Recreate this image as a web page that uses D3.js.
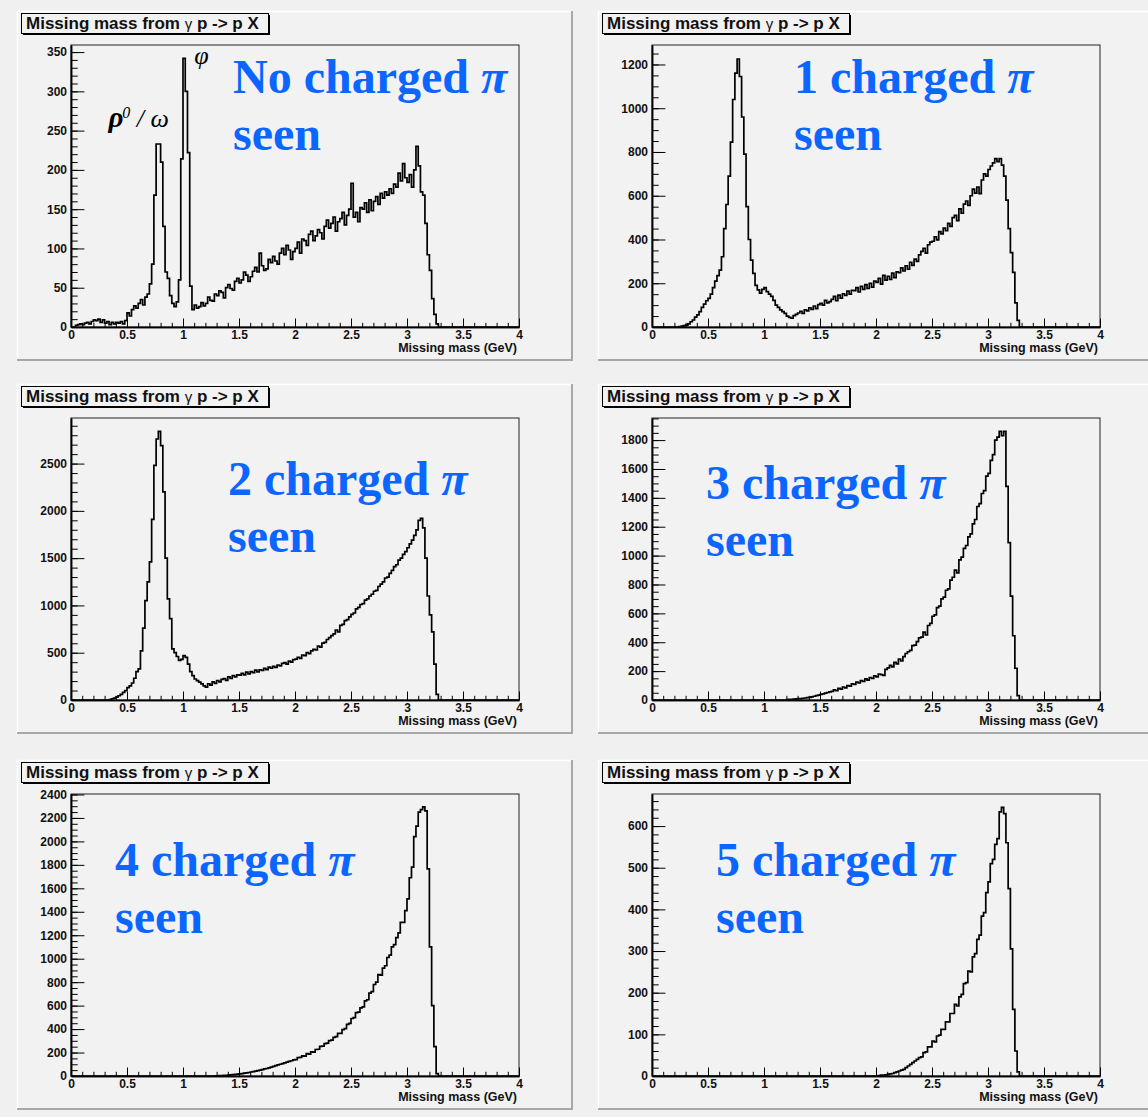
<!DOCTYPE html>
<html><head><meta charset="utf-8">
<script src="https://cdn.jsdelivr.net/npm/d3@7"></script>
<style>
html,body{margin:0;padding:0;background:#f0f0f0;}
svg{display:block;}
</style></head><body>
<svg id="c" width="1148" height="1117"></svg>
<script>
// ---------------- DATA ----------------
const panelLabels = ["No charged π","1 charged π","2 charged π","3 charged π","4 charged π","5 charged π"];
const secondLine = "seen";
const histTitle = "Missing mass from γ p -> p X";
const xAxisTitle = "Missing mass (GeV)";
const xTickValues = [0,0.5,1,1.5,2,2.5,3,3.5,4];
const yAxisMax = [359,1289,2982,1953,2404,677];
const yMajorStep = [50,200,500,200,200,100];
const yMinorStep = [10,50,100,50,50,20];
const binLow = 0, binHigh = 4; // GeV, 200 bins of 0.02 GeV

const countsNone = [
0,0,2,3,4, 3,5,6,4,7, 9,8,10,6,9, 5,7,3,6,4, 6,5,7,4,8,
18,14,22,27,24, 30,35,28,38,42, 55,80,168,233,233, 210,128,70,62,40, 30,26,32,60,214,
342,300,222,52,22, 28,24,26,31,27, 30,38,34,33,42, 40,46,44,37,50, 54,49,47,58,62,
56,60,70,66,58, 64,71,76,70,94, 78,72,74,86,82, 90,84,80,94,100, 92,104,98,86,96,
100,108,94,112,110, 104,118,122,110,116, 124,120,112,128,136, 126,132,140,122,134, 138,146,130,142,150,
183,140,146,134,152, 150,158,146,162,148, 160,166,156,170,164, 172,168,176,170,182, 178,196,186,208,190,
184,194,178,200,230, 205,172,168,132,92, 72,36,16,4,0, 0,0,0,0,0, 0,0,0,0,0,
0,0,0,0,0, 0,0,0,0,0, 0,0,0,0,0, 0,0,0,0,0, 0,0,0,0,0];

const countsOne = [
0,0,0,0,0, 0,0,0,0,0, 0,0,2,4,6, 9,14,24,32,45, 55,70,90,105,120,
131,150,180,210,235, 260,321,450,560,690, 845,1040,1160,1225,1145, 960,790,550,400,306, 245,190,170,155,172,
180,162,150,140,122, 100,90,78,70,62, 50,44,40,52,58, 64,72,62,78,74, 88,80,96,84,102,
108,100,122,110,116, 126,140,120,146,132, 152,144,164,150,168, 166,180,160,186,172, 194,176,200,182,210,
204,222,196,236,214, 232,218,246,226,252, 248,270,256,280,264, 296,282,310,300,330, 346,360,338,376,388,
392,412,398,436,426, 452,440,474,460,500, 510,486,540,520,562, 576,556,600,630,612, 640,610,672,700,690,
720,736,750,770,756, 770,740,690,580,450, 340,250,110,30,0, 0,0,0,0,0, 0,0,0,0,0,
0,0,0,0,0, 0,0,0,0,0, 0,0,0,0,0, 0,0,0,0,0, 0,0,0,0,0];

const countsTwo = [
0,0,0,0,0, 0,0,0,0,0, 0,0,0,0,0, 0,0,5,12,20, 30,45,60,80,100,
130,150,180,230,300, 330,520,760,1050,1250, 1460,1910,2480,2760,2840, 2690,2200,1500,1070,860, 540,500,460,420,430,
470,450,380,300,257, 222,205,190,170,150, 137,172,158,192,176, 206,192,218,226,208, 246,228,258,244,266,
262,282,266,294,276, 300,290,316,298,320, 312,334,322,348,336, 356,344,370,360,388, 396,380,412,400,426,
432,452,440,476,470, 500,490,520,536,530, 570,560,602,610,640, 660,680,700,740,720, 790,800,840,850,880,
906,920,964,980,1010, 1020,1056,1070,1100,1118, 1150,1160,1200,1226,1250, 1290,1300,1340,1370,1410, 1430,1480,1500,1540,1570,
1610,1650,1690,1740,1800, 1900,1920,1820,1500,1100, 900,720,380,60,0, 0,0,0,0,0, 0,0,0,0,0,
0,0,0,0,0, 0,0,0,0,0, 0,0,0,0,0, 0,0,0,0,0, 0,0,0,0,0];

const countsThree = [
0,0,0,0,0, 0,0,0,0,0, 0,0,0,0,0, 0,0,0,0,0, 0,0,0,0,0,
0,0,0,0,0, 0,0,0,0,0, 0,0,0,0,0, 0,0,0,0,0, 0,0,0,0,0,
0,0,0,0,0, 0,0,0,0,0, 3,4,5,6,8, 9,10,12,14,16, 18,22,26,30,34,
38,42,48,52,56, 60,70,64,80,76, 90,84,100,96,112, 108,124,118,134,128, 146,138,156,150,168,
160,180,176,170,212, 222,240,230,260,250, 284,270,300,322,334, 344,376,380,404,430, 436,470,450,516,530,
580,590,640,650,700, 712,760,770,830,850, 900,880,970,990,1050, 1070,1130,1150,1220,1250, 1340,1360,1430,1450,1550,
1570,1660,1700,1800,1820, 1860,1830,1860,1480,1090, 720,445,220,30,0, 0,0,0,0,0, 0,0,0,0,0,
0,0,0,0,0, 0,0,0,0,0, 0,0,0,0,0, 0,0,0,0,0, 0,0,0,0,0];

const countsFour = [
0,0,0,0,0, 0,0,0,0,0, 0,0,0,0,0, 0,0,0,0,0, 0,0,0,0,0,
0,0,0,0,0, 0,0,0,0,0, 0,0,0,0,0, 0,0,0,0,0, 0,0,0,0,0,
0,0,0,0,0, 0,0,0,0,0, 0,0,0,0,1, 2,3,4,5,6, 8,10,12,14,16,
18,21,24,27,30, 34,38,42,46,50, 55,60,64,70,76, 82,88,94,100,106, 112,118,124,130,138,
140,156,158,172,170, 190,186,206,204,226, 228,252,254,276,280, 302,306,330,336,364, 364,396,404,440,448,
490,498,540,544,580, 590,640,650,706,720, 780,800,864,860,920, 940,1010,1030,1100,1120, 1180,1220,1310,1310,1410,
1510,1690,1780,2040,2130, 2250,2270,2295,2260,1765, 1100,600,250,20,0, 0,0,0,0,0, 0,0,0,0,0,
0,0,0,0,0, 0,0,0,0,0, 0,0,0,0,0, 0,0,0,0,0, 0,0,0,0,0];

const countsFive = [
0,0,0,0,0, 0,0,0,0,0, 0,0,0,0,0, 0,0,0,0,0, 0,0,0,0,0,
0,0,0,0,0, 0,0,0,0,0, 0,0,0,0,0, 0,0,0,0,0, 0,0,0,0,0,
0,0,0,0,0, 0,0,0,0,0, 0,0,0,0,0, 0,0,0,0,0, 0,0,0,0,0,
0,0,0,0,0, 0,0,0,0,0, 0,0,0,0,0, 0,0,0,0,0, 0,0,0,0,0,
0,1,2,2,3, 4,5,6,8,10, 12,14,16,20,24, 28,32,36,40,44, 46,56,58,70,70,
84,82,96,98,112, 112,130,130,150,150, 172,168,190,196,222, 224,252,250,286,294, 328,338,384,392,440,
466,510,520,556,570, 634,645,630,560,450, 305,160,60,10,0, 0,0,0,0,0, 0,0,0,0,0,
0,0,0,0,0, 0,0,0,0,0, 0,0,0,0,0, 0,0,0,0,0, 0,0,0,0,0];

const allCounts = [countsNone,countsOne,countsTwo,countsThree,countsFour,countsFive];

// ---------------- LAYOUT ----------------
const W = 1148, H = 1117;
const padCols = [17, 598], padRows = [11, 384, 760];
const padW = 556, padH = 350;
const frameL = 54, frameT = 34, frameW = 448, frameH = 282;
const labelOffsets = [[162,48],[142,48],[157,77],[54,81],[44,82],[64,82]];
const labelLineGap = 57;
const rootFont = "'Liberation Sans', Arial, Helvetica, sans-serif";
const serifFont = "'Liberation Serif', 'Times New Roman', serif";
const blue = "#0a66ff";
const padFill = "#f2f2f2";

const svg = d3.select("#c");
svg.append("rect").attr("width",W).attr("height",H).attr("fill","#f0f0f0");

allCounts.forEach((counts,i)=>{
  const col = i%2, row = Math.floor(i/2);
  const px = padCols[col], py = padRows[row];
  const g = svg.append("g");

  // pad with bevel
  g.append("rect").attr("x",px).attr("y",py).attr("width",padW).attr("height",padH).attr("fill",padFill);
  g.append("path").attr("d",`M${px+0.5},${py+padH}V${py+0.5}H${px+padW}`)
    .attr("stroke","#ffffff").attr("stroke-width",1.5).attr("fill","none");
  g.append("path").attr("d",`M${px+padW-1},${py}V${py+padH-1}H${px}`)
    .attr("stroke","#a8a8a8").attr("stroke-width",2).attr("fill","none");

  const fx = px+frameL, fy = py+frameT;
  const x = d3.scaleLinear().domain([binLow,binHigh]).range([fx, fx+frameW]);
  const y = d3.scaleLinear().domain([0,yAxisMax[i]]).range([fy+frameH, fy]);

  // histogram
  const bw = (binHigh-binLow)/counts.length;
  const pts = counts.map((c,k)=>[binLow+k*bw, c]);
  pts.push([binHigh, counts[counts.length-1]]);
  const line = d3.line().x(d=>x(d[0])).y(d=>y(d[1])).curve(d3.curveStepAfter);
  g.append("path").attr("d",line(pts)).attr("fill","none")
    .attr("stroke","#000").attr("stroke-width",1.7).attr("stroke-linejoin","miter");

  // frame
  g.append("rect").attr("x",fx).attr("y",fy).attr("width",frameW).attr("height",frameH)
    .attr("fill","none").attr("stroke","#222").attr("stroke-width",1);

  // axes
  const xMinor = d3.range(0, 40.5, 1).map(v=>v/10);
  const gxm = g.append("g").attr("transform",`translate(0,${fy+frameH})`)
    .call(d3.axisBottom(x).tickValues(xMinor).tickSizeInner(-4.2).tickSizeOuter(0).tickFormat(""));
  const gx = g.append("g").attr("transform",`translate(0,${fy+frameH})`)
    .call(d3.axisBottom(x).tickValues(xTickValues).tickSizeInner(-8.5).tickSizeOuter(0).tickPadding(3).tickFormat(d3.format("~g")));
  const yMinor = d3.range(0, yAxisMax[i]+1e-9, yMinorStep[i]);
  const yMajor = d3.range(0, yAxisMax[i]+1e-9, yMajorStep[i]);
  const gym = g.append("g").attr("transform",`translate(${fx},0)`)
    .call(d3.axisLeft(y).tickValues(yMinor).tickSizeInner(-6.7).tickSizeOuter(0).tickFormat(""));
  const gy = g.append("g").attr("transform",`translate(${fx},0)`)
    .call(d3.axisLeft(y).tickValues(yMajor).tickSizeInner(-13.4).tickSizeOuter(0).tickPadding(4).tickFormat(d3.format("d")));
  [gxm,gx,gym,gy].forEach(a=>{
    a.selectAll("line").attr("stroke","#000").attr("stroke-width",1);
    a.select(".domain").attr("stroke","#000").attr("stroke-width",1.5);
    a.selectAll("text").attr("font-family",rootFont).attr("font-size",12)
      .attr("font-weight","bold").attr("fill","#111");
  });

  // x-axis title
  g.append("text").attr("x",fx+frameW-2).attr("y",fy+frameH+25).attr("text-anchor","end")
    .attr("font-family",rootFont).attr("font-size",12.5).attr("font-weight","bold").attr("fill","#111")
    .text(xAxisTitle);

  // title box
  g.append("rect").attr("x",px+6).attr("y",py+4).attr("width",247).attr("height",20).attr("fill","#000");
  g.append("rect").attr("x",px+4.5).attr("y",py+2.5).attr("width",247).attr("height",20)
    .attr("fill",padFill).attr("stroke","#000").attr("stroke-width",1);
  const tt = g.append("text").attr("x",px+9).attr("y",py+17.5)
    .attr("font-family",rootFont).attr("font-size",17).attr("font-weight","bold").attr("fill","#111");
  const tparts = histTitle.split("γ");
  tt.append("tspan").text(tparts[0]);
  tt.append("tspan").attr("font-weight","normal").attr("font-size",15).text("γ");
  tt.append("tspan").text(tparts[1]);

  // blue label
  const [lx,ly] = labelOffsets[i];
  const bt = g.append("text").attr("x",fx+lx).attr("y",fy+ly)
    .attr("font-family",serifFont).attr("font-size",48).attr("font-weight","bold").attr("fill",blue);
  const lparts = panelLabels[i].split("π");
  bt.append("tspan").text(lparts[0]);
  bt.append("tspan").attr("font-style","italic").text("π");
  g.append("text").attr("x",fx+lx).attr("y",fy+ly+labelLineGap)
    .attr("font-family",serifFont).attr("font-size",48).attr("font-weight","bold").attr("fill",blue)
    .text(secondLine);

  // resonance annotations on first panel
  if (i===0) {
    const a1 = g.append("text").attr("x",x(0.334)).attr("y",y(255))
      .attr("font-family",serifFont).attr("font-style","italic").attr("fill","#000");
    a1.append("tspan").attr("font-size",29).attr("font-weight","bold").text("ρ");
    a1.append("tspan").attr("font-size",16).attr("dy",-9).attr("dx",-1).text("0");
    a1.append("tspan").attr("font-size",26).attr("dy",9).text(" / ω");
    g.append("text").attr("x",x(1.10)).attr("y",y(335))
      .attr("font-family",serifFont).attr("font-style","italic").attr("font-size",26).attr("fill","#000").text("φ");
  }
});
</script>
</body></html>
